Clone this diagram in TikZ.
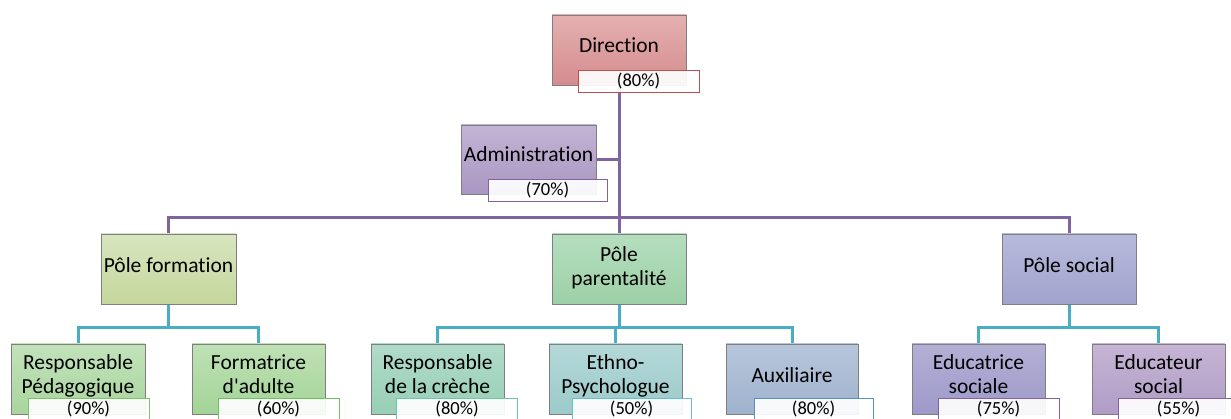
\documentclass[tikz,border=0pt]{standalone}
\usepackage{fontspec}
\setmainfont[Ligatures=NoCommon]{Carlito}
\usetikzlibrary{backgrounds}
\definecolor{pline}{HTML}{8064A2}
\definecolor{tline}{HTML}{4BACC6}
\definecolor{bord}{HTML}{7F7F7F}
\tikzset{
  box/.style={draw=bord, line width=0.8pt, minimum width=#1, minimum height=70pt, inner sep=0pt},
  box/.default=134pt,
  txt/.style={font=\fontsize{21.5}{24}\selectfont, align=center, inner sep=0pt, text depth=0pt},
  pct/.style={fill=white, fill opacity=0.92, text opacity=1, line width=0.8pt, minimum width=#1, minimum height=22pt, inner sep=0pt, font=\fontsize{18.5}{19}\selectfont},
  pct/.default=121pt,
  purp/.style={draw=pline, line width=3pt},
  teal/.style={draw=tline, line width=3pt},
}
\begin{document}
\begin{tikzpicture}[x=1pt,y=-1pt]
\useasboundingbox (0,0) rectangle (1231,419);
\clip (0,0) rectangle (1231,419);
% Top level
\node[box, top color={rgb,255:red,229;green,176;blue,177}, bottom color={rgb,255:red,212;green,140;blue,142}] (dir) at (619,50) {};
\node[txt] (dirT) at (619,45) {Direction};
\node[pct, draw={rgb,255:red,192;green,80;blue,77}] (dirP) at (638.5,81) {(80\%)};
\node[box=135pt, minimum height=69pt, top color={rgb,255:red,194;green,181;blue,212}, bottom color={rgb,255:red,169;green,150;blue,194}] (adm) at (528.5,159.5) {};
\node[txt] (admT) at (528.5,154) {Administration};
\node[pct=119pt, draw=pline] (admP) at (547.5,190.5) {(70\%)};
% Poles
\node[box=135pt, top color={rgb,255:red,216;green,229;blue,191}, bottom color={rgb,255:red,196;green,215;blue,157}] (form) at (168.5,269) {};
\node[txt] (formT) at (168.5,265) {Pôle formation};
\node[box, top color={rgb,255:red,181;green,222;blue,191}, bottom color={rgb,255:red,157;green,208;blue,166}] (par) at (619,269) {};
\node[txt] (parT) at (619,266) {Pôle\\parentalité};
\node[box, top color={rgb,255:red,183;green,186;blue,219}, bottom color={rgb,255:red,160;green,164;blue,206}] (soc) at (1069,269) {};
\node[txt] (socT) at (1069,265) {Pôle social};
% Children
\node[box, top color={rgb,255:red,194;green,226;blue,186}, bottom color={rgb,255:red,169;green,213;blue,158}] (rp) at (78,379) {};
\node[txt] (rpT) at (78,374) {Responsable\\Pédagogique};
\node[pct, draw={rgb,255:red,125;green,195;blue,107}] (rpP) at (88.5,409.5) {(90\%)};
\node[box=133pt, top color={rgb,255:red,191;green,225;blue,181}, bottom color={rgb,255:red,163;green,212;blue,151}] (fa) at (258.5,379) {};
\node[txt] (faT) at (258.5,374) {Formatrice\\d\textquotesingle adulte};
\node[pct, draw={rgb,255:red,112;green,192;blue,96}] (faP) at (278.5,409.5) {(60\%)};
\node[box=133pt, top color={rgb,255:red,176;green,219;blue,201}, bottom color={rgb,255:red,152;green,207;blue,181}] (rc) at (437.5,379) {};
\node[txt] (rcT) at (437.5,374) {Responsable\\de la crèche};
\node[pct, draw={rgb,255:red,111;green,197;blue,168}] (rcP) at (457,409.5) {(80\%)};
\node[box=133pt, top color={rgb,255:red,180;green,216;blue,216}, bottom color={rgb,255:red,156;green,202;blue,202}] (eth) at (615.5,379) {};
\node[txt] (ethT) at (615.5,374) {Ethno-\\Psychologue};
\node[pct=119pt, draw={rgb,255:red,107;green,191;blue,198}] (ethP) at (631.5,409.5) {(50\%)};
\node[box=132pt, top color={rgb,255:red,183;green,198;blue,219}, bottom color={rgb,255:red,159;green,178;blue,205}] (aux) at (792,379) {};
\node[txt] (auxT) at (792,375) {Auxiliaire};
\node[pct=119pt, draw={rgb,255:red,91;green,143;blue,192}] (auxP) at (813.5,409.5) {(80\%)};
\node[box=133pt, top color={rgb,255:red,179;green,176;blue,214}, bottom color={rgb,255:red,158;green,153;blue,201}] (edf) at (978.5,379) {};
\node[txt] (edfT) at (978.5,374) {Educatrice\\sociale};
\node[pct, draw=pline] (edfP) at (998.5,409.5) {(75\%)};
\node[box=133pt, top color={rgb,255:red,198;green,181;blue,213}, bottom color={rgb,255:red,176;green,156;blue,198}] (edm) at (1158.5,379) {};
\node[txt] (edmT) at (1158.5,374) {Educateur\\social};
\node[pct, draw=pline] (edmP) at (1178.5,409.5) {(55\%)};
% bus coordinates
\coordinate (bus) at (619,218);
\coordinate (fY) at (168.5,328);
\coordinate (pY) at (619,328);
\coordinate (sY) at (1069,328);
\begin{pgfonlayer}{background}
\draw[purp] (dir.south) -- (par.north);
\draw[purp] (adm.east) -- (adm.east -| dir.south);
\draw[purp] (form.north) |- (bus) -| (soc.north);
\draw[teal] (form.south) -- (fY);
\draw[teal] (rp.north) |- (fY) -| (fa.north);
\draw[teal] (par.south) -- (pY);
\draw[teal] (rc.north) |- (pY) -| (aux.north);
\draw[teal] (eth.north) -- (eth.north |- pY);
\draw[teal] (soc.south) -- (sY);
\draw[teal] (edf.north) |- (sY) -| (edm.north);
\end{pgfonlayer}
\end{tikzpicture}
\end{document}
